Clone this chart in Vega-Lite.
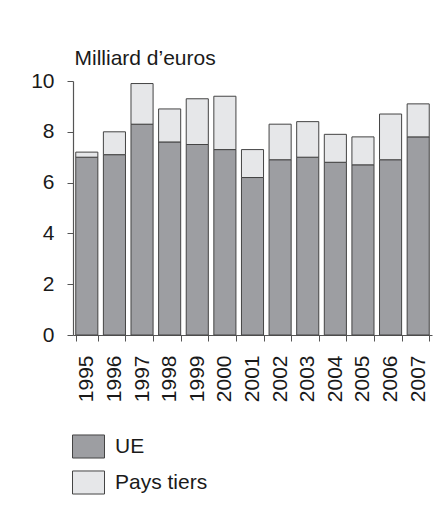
{
  "$schema": "https://vega.github.io/schema/vega-lite/v6.json",
  "autosize": {"type": "none"},
  "padding": {"left": 73, "top": 81, "right": 15, "bottom": 192},
  "width": 359,
  "height": 254,
  "background": "white",
  "config": {
    "view": {"stroke": null},
    "font": "Liberation Sans",
    "axis": {"labelFont": "Liberation Sans", "titleFont": "Liberation Sans", "labelColor": "#1a1a1a", "titleColor": "#1a1a1a", "domainColor": "#555", "tickColor": "#555", "grid": false}
  },
  "data": {
    "values": [
      {"year": "1995", "region": "UE", "value": 7.0},
      {"year": "1996", "region": "UE", "value": 7.1},
      {"year": "1997", "region": "UE", "value": 8.3},
      {"year": "1998", "region": "UE", "value": 7.6},
      {"year": "1999", "region": "UE", "value": 7.5},
      {"year": "2000", "region": "UE", "value": 7.3},
      {"year": "2001", "region": "UE", "value": 6.2},
      {"year": "2002", "region": "UE", "value": 6.9},
      {"year": "2003", "region": "UE", "value": 7.0},
      {"year": "2004", "region": "UE", "value": 6.8},
      {"year": "2005", "region": "UE", "value": 6.7},
      {"year": "2006", "region": "UE", "value": 6.9},
      {"year": "2007", "region": "UE", "value": 7.8},
      {"year": "1995", "region": "Pays tiers", "value": 0.2},
      {"year": "1996", "region": "Pays tiers", "value": 0.9},
      {"year": "1997", "region": "Pays tiers", "value": 1.6},
      {"year": "1998", "region": "Pays tiers", "value": 1.3},
      {"year": "1999", "region": "Pays tiers", "value": 1.8},
      {"year": "2000", "region": "Pays tiers", "value": 2.1},
      {"year": "2001", "region": "Pays tiers", "value": 1.1},
      {"year": "2002", "region": "Pays tiers", "value": 1.4},
      {"year": "2003", "region": "Pays tiers", "value": 1.4},
      {"year": "2004", "region": "Pays tiers", "value": 1.1},
      {"year": "2005", "region": "Pays tiers", "value": 1.1},
      {"year": "2006", "region": "Pays tiers", "value": 1.8},
      {"year": "2007", "region": "Pays tiers", "value": 1.3}
    ]
  },
  "mark": {"type": "bar", "stroke": "#444", "strokeWidth": 1},
  "encoding": {
    "x": {
      "field": "year", "type": "ordinal",
      "scale": {"paddingInner": 0.2, "paddingOuter": 0.1},
      "axis": {"title": null, "labelAngle": -90, "labelFontSize": 21, "tickBand": "extent", "tickSize": 6, "labelPadding": 14, "domainWidth": 1.2}
    },
    "y": {
      "field": "value", "type": "quantitative", "stack": "zero",
      "scale": {"domain": [0, 10], "nice": false},
      "axis": {"values": [0, 2, 4, 6, 8, 10], "tickSize": 6, "labelPadding": 13, "labelFontSize": 21, "domainWidth": 1.2,
        "title": "Milliard d’euros", "titleAngle": 0, "titleX": 1, "titleY": -17, "titleAlign": "left", "titleBaseline": "alphabetic", "titleFontWeight": "normal", "titleFontSize": 21}
    },
    "color": {
      "field": "region", "type": "nominal",
      "sort": ["UE", "Pays tiers"],
      "scale": {"domain": ["UE", "Pays tiers"], "range": ["#9d9ea2", "#e6e7e9"]},
      "legend": {"title": null, "orient": "none", "legendX": -1, "legendY": 349, "direction": "vertical",
        "symbolType": "M-1,-0.72H1V0.72H-1Z", "symbolSize": 1024, "symbolStrokeColor": "#444", "symbolStrokeWidth": 1,
        "labelFontSize": 21, "labelFont": "Liberation Sans", "labelColor": "#1a1a1a", "labelOffset": 10, "rowPadding": 5, "padding": 0}
    }
  }
}
